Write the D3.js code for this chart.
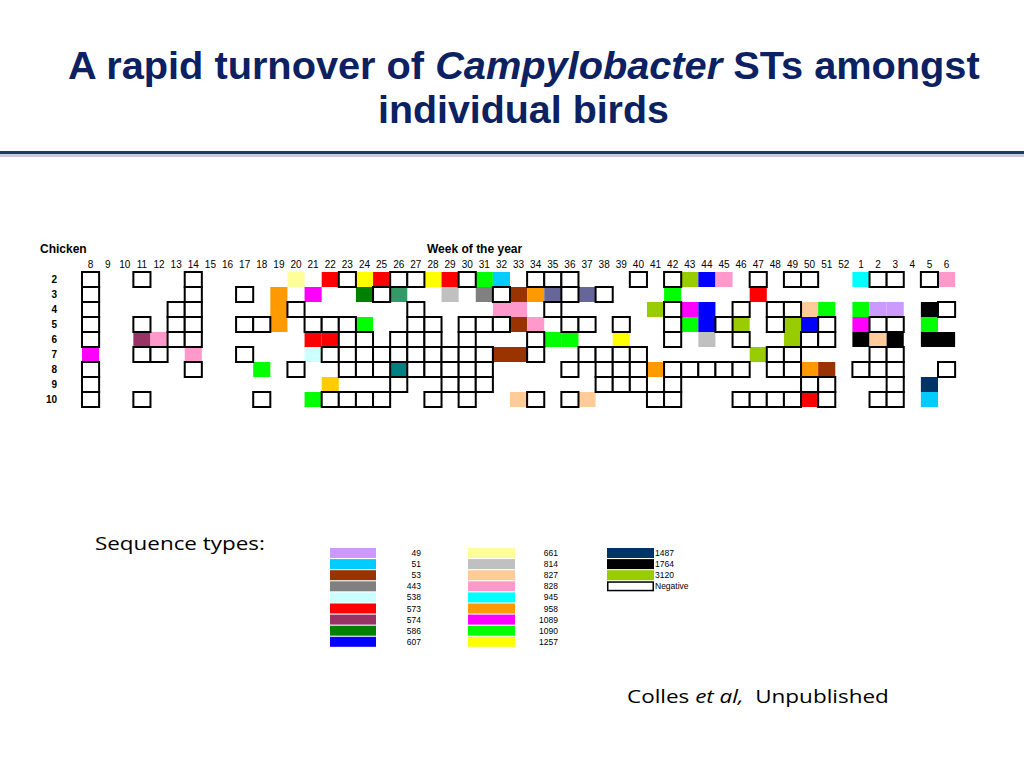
<!DOCTYPE html>
<html>
<head>
<meta charset="utf-8">
<script src="https://cdn.jsdelivr.net/npm/d3@7"></script>
<style>
  html, body { margin: 0; padding: 0; background: #fff; }
  svg { display: block; }
</style>
</head>
<body>
<svg id="chart" width="1024" height="768"></svg>
<script>
// ---------------- DATA ----------------
const weeks = ["8","9","10","11","12","13","14","15","16","17","18","19","20","21","22","23","24","25","26","27","28","29","30","31","32","33","34","35","36","37","38","39","40","41","42","43","44","45","46","47","48","49","50","51","52","1","2","3","4","5","6"];
const chickens = ["2","3","4","5","6","7","8","9","10"];

// Sequence types shown in the legend and their colours
const stCodes  = ["49","51","53","443","538","573","574","586","607","661","814","827","828","945","958","1089","1090","1257","1487","1764","3120"];
const stColors = ["#CC99FF","#00CCFF","#993300","#808080","#CCFFFF","#FF0000","#993366","#008000","#0000FF","#FFFF99","#C0C0C0","#FFCC99","#FF99CC","#00FFFF","#FF9900","#FF00FF","#00FF00","#FFFF00","#003366","#000000","#99CC00"];
// colours present in the grid but not listed in the legend
const extraCodes  = ["slate","seagreen","teal","gold"];
const extraColors = ["#666699","#339966","#008080","#FFCC00"];

// per chicken: [week, sequence type]; "N" = negative sample
const bird2  = [["8","N"],["11","N"],["14","N"],["20","661"],["22","573"],["23","N"],["24","1257"],["25","573"],["26","N"],["27","N"],["28","1257"],["29","573"],["30","N"],["31","1090"],["32","51"],["34","N"],["35","N"],["36","N"],["40","N"],["42","N"],["43","3120"],["44","607"],["45","828"],["47","N"],["49","N"],["50","N"],["1","945"],["2","N"],["3","N"],["5","N"],["6","828"]];
const bird3  = [["8","N"],["14","N"],["17","N"],["19","958"],["21","1089"],["24","586"],["25","N"],["26","seagreen"],["29","814"],["31","443"],["32","N"],["33","53"],["34","958"],["35","slate"],["36","N"],["37","slate"],["38","N"],["42","1090"],["47","573"]];
const bird4  = [["8","N"],["13","N"],["14","N"],["19","958"],["20","N"],["27","N"],["32","828"],["33","828"],["35","N"],["41","3120"],["42","N"],["43","1089"],["44","607"],["46","N"],["48","N"],["49","N"],["50","827"],["51","1090"],["1","1090"],["2","49"],["3","49"],["5","1764"],["6","N"]];
const bird5  = [["8","N"],["11","N"],["13","N"],["14","N"],["17","N"],["18","N"],["19","958"],["21","N"],["22","N"],["23","N"],["24","1090"],["27","N"],["28","N"],["30","N"],["31","N"],["32","N"],["33","53"],["34","828"],["36","N"],["37","N"],["39","N"],["42","N"],["43","1090"],["44","607"],["45","N"],["46","3120"],["48","N"],["49","3120"],["50","607"],["51","N"],["1","1089"],["2","N"],["3","N"],["5","1090"]];
const bird6  = [["8","N"],["11","574"],["12","828"],["13","N"],["14","N"],["21","573"],["22","573"],["23","N"],["24","N"],["26","N"],["27","N"],["28","N"],["30","N"],["34","N"],["35","1090"],["36","1090"],["39","1257"],["42","N"],["44","814"],["46","N"],["49","3120"],["50","N"],["51","N"],["1","1764"],["2","827"],["3","1764"],["5","1764"],["6","1764"]];
const bird7  = [["8","1089"],["11","N"],["12","N"],["14","828"],["17","N"],["21","538"],["22","N"],["23","N"],["24","N"],["25","N"],["26","N"],["27","N"],["28","N"],["29","N"],["30","N"],["31","N"],["32","53"],["33","53"],["34","N"],["37","N"],["38","N"],["39","N"],["40","N"],["47","3120"],["48","N"],["49","N"],["2","N"],["3","N"]];
const bird8  = [["8","N"],["14","N"],["18","1090"],["20","N"],["23","N"],["24","N"],["25","N"],["26","teal"],["27","N"],["28","N"],["29","N"],["30","N"],["31","N"],["36","N"],["38","N"],["39","N"],["40","N"],["41","958"],["42","N"],["43","N"],["44","N"],["45","N"],["46","N"],["48","N"],["49","N"],["50","958"],["51","53"],["1","N"],["2","N"],["3","N"],["6","N"]];
const bird9  = [["8","N"],["22","gold"],["26","N"],["29","N"],["30","N"],["31","N"],["38","N"],["39","N"],["40","N"],["42","N"],["50","N"],["51","N"],["3","N"],["5","1487"]];
const bird10 = [["8","N"],["11","N"],["18","N"],["21","1090"],["22","N"],["23","N"],["24","N"],["25","N"],["28","N"],["30","N"],["33","827"],["34","N"],["36","N"],["37","827"],["41","N"],["42","N"],["46","N"],["47","N"],["48","N"],["49","N"],["50","573"],["51","N"],["2","N"],["3","N"],["5","51"]];

const birdRows = [bird2, bird3, bird4, bird5, bird6, bird7, bird8, bird9, bird10];

// ---------------- DRAW ----------------
const svg = d3.select("#chart");
const NAVY = "#0B2161";
const colorScale = d3.scaleOrdinal()
  .domain(stCodes.concat(extraCodes))
  .range(stColors.concat(extraColors));

// helper: horizontally fit text to a target width, centred at cx
function fitCentered(sel, cx, width) {
  const bb = sel.node().getBBox();
  const s = width / bb.width;
  sel.attr("text-anchor", "start")
     .attr("x", 0)
     .attr("transform", `translate(${cx - width / 2},0) scale(${s},1)`);
}

// Title
const t1 = svg.append("text")
  .attr("y", 79)
  .attr("font-family", "Liberation Sans, Arial, sans-serif")
  .attr("font-weight", "bold")
  .attr("font-size", 39)
  .attr("fill", NAVY);
t1.append("tspan").text("A rapid turnover of ");
t1.append("tspan").attr("font-style", "italic").text("Campylobacter");
t1.append("tspan").text(" STs amongst");
fitCentered(t1, 524, 912);

const t2 = svg.append("text")
  .attr("y", 123)
  .attr("font-family", "Liberation Sans, Arial, sans-serif")
  .attr("font-weight", "bold")
  .attr("font-size", 39)
  .attr("fill", NAVY)
  .text("individual birds");
fitCentered(t2, 523.5, 291);

// Title rule with soft shadow
svg.append("rect").attr("x", 0).attr("y", 154).attr("width", 1024).attr("height", 3).attr("fill", "#c9ccd6");
svg.append("rect").attr("x", 0).attr("y", 151).attr("width", 1024).attr("height", 3).attr("fill", "#1F3870");

// Scales for the grid
const x = d3.scaleBand().domain(weeks).range([82, 82 + 17.12 * weeks.length]).padding(0);
const y = d3.scaleBand().domain(chickens).range([272, 272 + 15 * chickens.length]).padding(0);

// Header texts
svg.append("text").attr("x", 40).attr("y", 253)
  .attr("font-family", "Liberation Sans, Arial, sans-serif").attr("font-weight", "bold").attr("font-size", 12)
  .text("Chicken");
svg.append("text").attr("x", 427).attr("y", 253)
  .attr("font-family", "Liberation Sans, Arial, sans-serif").attr("font-weight", "bold").attr("font-size", 12)
  .text("Week of the year");

// Week tick labels (top axis)
const xAxis = d3.axisTop(x).tickSize(0).tickPadding(0);
const gx = svg.append("g").attr("transform", "translate(0,268)").call(xAxis);
gx.select(".domain").remove();
gx.selectAll("text")
  .attr("font-family", "Liberation Sans, Arial, sans-serif")
  .attr("font-size", 10)
  .attr("fill", "#000")
  .attr("dy", 0);

// Chicken labels (left axis)
const yAxis = d3.axisLeft(y).tickSize(0).tickPadding(0);
const gy = svg.append("g").attr("transform", "translate(57,0)").call(yAxis);
gy.select(".domain").remove();
gy.selectAll("text")
  .attr("font-family", "Liberation Sans, Arial, sans-serif")
  .attr("font-size", 10)
  .attr("font-weight", "bold")
  .attr("fill", "#000");

// Cells
const cells = [];
birdRows.forEach((row, i) => {
  row.forEach(([wk, st]) => cells.push({ chicken: chickens[i], week: wk, st: st }));
});

const g = svg.append("g");
g.selectAll("rect.filled")
  .data(cells.filter(d => d.st !== "N"))
  .join("rect")
  .attr("class", "filled")
  .attr("x", d => x(d.week))
  .attr("y", d => y(d.chicken))
  .attr("width", x.bandwidth())
  .attr("height", y.bandwidth())
  .attr("fill", d => colorScale(d.st));

g.selectAll("rect.neg")
  .data(cells.filter(d => d.st === "N"))
  .join("rect")
  .attr("class", "neg")
  .attr("x", d => x(d.week))
  .attr("y", d => y(d.chicken))
  .attr("width", x.bandwidth())
  .attr("height", y.bandwidth())
  .attr("fill", "#fff")
  .attr("stroke", "#000")
  .attr("stroke-width", 2);

// "Sequence types:" caption
const seq = svg.append("text").attr("y", 550)
  .attr("font-family", "Open Sans, Liberation Sans, sans-serif")
  .attr("font-size", 19)
  .attr("fill", "#000")
  .text("Sequence types:");
fitCentered(seq, 95 + 170 / 2, 170);

// Legend
const legendItems = stCodes.map((c, i) => ({ code: c, color: stColors[i] }));
legendItems.push({ code: "Negative", color: "#fff", neg: true });
const colDefs = [
  { x: 330, w: 46, labelX: 421, anchor: "end" },
  { x: 468, w: 47, labelX: 558, anchor: "end" },
  { x: 607, w: 47, labelX: 655, anchor: "start" }
];
const legendY = d3.scaleLinear().domain([0, 8]).range([548, 548 + 8 * 11.1]);
const lg = svg.append("g");
legendItems.forEach((d, i) => {
  const col = colDefs[Math.floor(i / 9)];
  const row = i % 9;
  const yy = legendY(row);
  lg.append("rect")
    .attr("x", col.x + (d.neg ? 0.75 : 0))
    .attr("y", yy + (d.neg ? 0.75 : 0))
    .attr("width", col.w - (d.neg ? 1.5 : 0))
    .attr("height", 10 - (d.neg ? 1.5 : 0))
    .attr("fill", d.color)
    .attr("stroke", d.neg ? "#000" : "none")
    .attr("stroke-width", d.neg ? 1.5 : 0);
  lg.append("text")
    .attr("x", col.labelX)
    .attr("y", yy + 8)
    .attr("text-anchor", col.anchor)
    .attr("font-family", "Liberation Sans, Arial, sans-serif")
    .attr("font-size", 8.5)
    .attr("fill", "#000")
    .text(d.code);
});

// Citation
const cit = svg.append("text").attr("y", 703)
  .attr("font-family", "Open Sans, Liberation Sans, sans-serif")
  .attr("font-size", 19)
  .attr("fill", "#000");
cit.append("tspan").text("Colles ");
cit.append("tspan").attr("font-style", "italic").text("et al,");
cit.append("tspan").text("\u00a0 Unpublished");
fitCentered(cit, 627 + 262 / 2, 262);
</script>
</body>
</html>
